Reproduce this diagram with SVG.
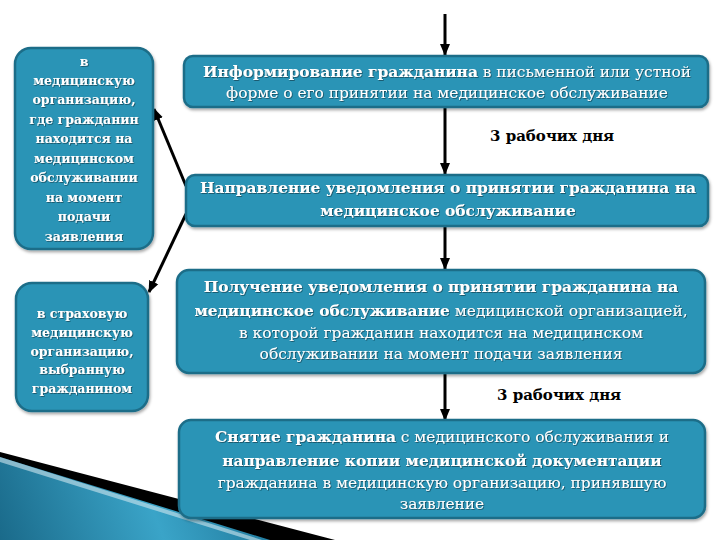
<svg xmlns="http://www.w3.org/2000/svg" width="720" height="540" viewBox="0 0 720 540">
<defs>
<style>
.box{fill:#2a94b6;stroke:#1c6d88;stroke-width:2.5;filter:url(#sh)}
.t{font-family:"DejaVu Serif","Liberation Serif",serif;fill:#ffffff;text-anchor:middle;filter:url(#ts)}
.m{font-size:15.4px}
.b{font-weight:bold;font-size:15.4px}
.s{font-size:12.5px;font-weight:bold}
.lbl{font-family:"DejaVu Serif","Liberation Serif",serif;font-weight:bold;font-size:15px;fill:#000}
.c{stroke:#000;stroke-width:3;fill:none;marker-end:url(#ah)}
</style>
<marker id="ah" markerUnits="userSpaceOnUse" markerWidth="12" markerHeight="12" viewBox="0 0 12 12" refX="11" refY="6" orient="auto">
<path d="M0,1 L12,6 L0,11 Z" fill="#000"/>
</marker>
<filter id="sh" x="-5%" y="-10%" width="110%" height="130%">
<feDropShadow dx="1" dy="2" stdDeviation="1.5" flood-color="#000" flood-opacity="0.35"/>
</filter>
<filter id="ts" x="-5%" y="-20%" width="110%" height="150%">
<feDropShadow dx="0.8" dy="0.8" stdDeviation="0.4" flood-color="#0a3a4a" flood-opacity="0.8"/>
</filter>
<linearGradient id="bg" x1="0" y1="540" x2="260" y2="440" gradientUnits="userSpaceOnUse">
<stop offset="0" stop-color="#1a6a8a"/>
<stop offset="0.55" stop-color="#3aa4c8"/>
<stop offset="1" stop-color="#1c7396"/>
</linearGradient>
</defs>
<rect width="720" height="540" fill="#ffffff"/>
<g id="decor">
<polygon points="0,452 335,540 262,540 0,458" fill="#000"/>
<polygon points="0,457 270,540 0,540" fill="url(#bg)"/>
<polygon points="0,457 262,540 250,540 0,462" fill="#cfe6ef" opacity="0.6"/>
</g>
<g id="connectors">
<line class="c" x1="445" y1="14" x2="445" y2="55"/>
<line class="c" x1="445" y1="107" x2="445" y2="174"/>
<line class="c" x1="445" y1="226" x2="445" y2="269"/>
<line class="c" x1="445" y1="373" x2="445" y2="420"/>
<line class="c" x1="186" y1="186" x2="154" y2="109"/>
<line class="c" x1="186" y1="214" x2="149" y2="292"/>
</g>
<g id="left1">
<rect class="box" x="15" y="48" width="138" height="201" rx="16"/>
<text class="t s" x="84"><tspan x="84" y="66">в</tspan><tspan x="84" y="85">медицинскую</tspan><tspan x="84" y="104">организацию,</tspan><tspan x="84" y="124">где гражданин</tspan><tspan x="84" y="143">находится на</tspan><tspan x="84" y="163">медицинском</tspan><tspan x="84" y="182">обслуживании</tspan><tspan x="84" y="202">на момент</tspan><tspan x="84" y="221">подачи</tspan><tspan x="84" y="241">заявления</tspan></text>
</g>
<g id="left2">
<rect class="box" x="16" y="283" width="132" height="128" rx="16"/>
<text class="t s" x="82"><tspan x="82" y="318">в страховую</tspan><tspan x="82" y="337">медицинскую</tspan><tspan x="82" y="356">организацию,</tspan><tspan x="82" y="374">выбранную</tspan><tspan x="82" y="393">гражданином</tspan></text>
</g>
<g id="step1">
<rect class="box" x="184" y="56" width="524" height="51" rx="9"/>
<text class="t" x="447" y="77"><tspan class="b">Информирование гражданина</tspan><tspan class="m"> в письменной или устной</tspan></text>
<text class="t m" x="447" y="98">форме о его принятии на медицинское обслуживание</text>
</g>
<text class="lbl" x="490" y="141">3 рабочих дня</text>
<g id="step2">
<rect class="box" x="186" y="175" width="522" height="51" rx="9"/>
<text class="t b" x="448" y="193">Направление уведомления о принятии гражданина на</text>
<text class="t b" x="448" y="216">медицинское обслуживание</text>
</g>
<g id="step3">
<rect class="box" x="177" y="270" width="528" height="103" rx="12"/>
<text class="t b" x="441" y="292">Получение уведомления о принятии гражданина на</text>
<text class="t" x="441" y="316"><tspan class="b">медицинское обслуживание</tspan><tspan class="m"> медицинской организацией,</tspan></text>
<text class="t m" x="441" y="338">в которой гражданин находится на медицинском</text>
<text class="t m" x="441" y="359">обслуживании на момент подачи заявления</text>
</g>
<text class="lbl" x="497" y="400">3 рабочих дня</text>
<g id="step4">
<rect class="box" x="179" y="420" width="526" height="98" rx="12"/>
<text class="t" x="442" y="442"><tspan class="b">Снятие гражданина</tspan><tspan class="m"> с медицинского обслуживания и</tspan></text>
<text class="t b" x="442" y="466">направление копии медицинской документации</text>
<text class="t m" x="442" y="488">гражданина в медицинскую организацию, принявшую</text>
<text class="t m" x="442" y="509">заявление</text>
</g>
</svg>
